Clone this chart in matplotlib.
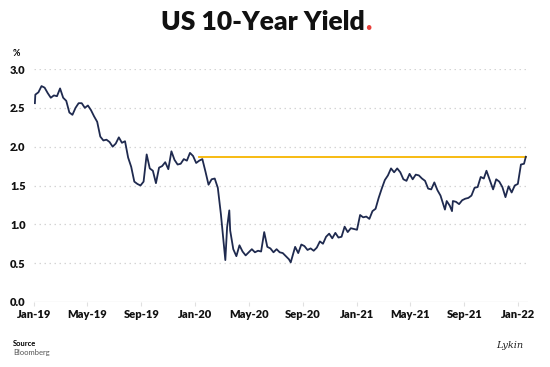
import matplotlib
matplotlib.use("Agg")
import matplotlib.pyplot as plt
import matplotlib.dates as mdates
import numpy as np

# US 10-year yield, weekly-ish readings (%)
dates = [
    "2019-01-03", "2019-01-04", "2019-01-11", "2019-01-18", "2019-01-25", "2019-02-01",
    "2019-02-08", "2019-02-15", "2019-02-22", "2019-03-01", "2019-03-08", "2019-03-15",
    "2019-03-22", "2019-03-29", "2019-04-05", "2019-04-12", "2019-04-19", "2019-04-26",
    "2019-05-03", "2019-05-10", "2019-05-17", "2019-05-24", "2019-05-31", "2019-06-07",
    "2019-06-14", "2019-06-21", "2019-06-28", "2019-07-05", "2019-07-12", "2019-07-19",
    "2019-07-26", "2019-08-02", "2019-08-09", "2019-08-16", "2019-08-23", "2019-08-30",
    "2019-09-06", "2019-09-13", "2019-09-20", "2019-09-27", "2019-10-04", "2019-10-11",
    "2019-10-18", "2019-10-25", "2019-11-01", "2019-11-08", "2019-11-15", "2019-11-22",
    "2019-11-29", "2019-12-06", "2019-12-13", "2019-12-20", "2019-12-27",
    "2020-01-03", "2020-01-10", "2020-01-17", "2020-01-24", "2020-01-31", "2020-02-07",
    "2020-02-14", "2020-02-21", "2020-02-28", "2020-03-06", "2020-03-09", "2020-03-13",
    "2020-03-18", "2020-03-20", "2020-03-27", "2020-04-03", "2020-04-10", "2020-04-17",
    "2020-04-24", "2020-05-01", "2020-05-08", "2020-05-15", "2020-05-22", "2020-05-29",
    "2020-06-05", "2020-06-12", "2020-06-19", "2020-06-26", "2020-07-03", "2020-07-10",
    "2020-07-17", "2020-07-24", "2020-07-31", "2020-08-04", "2020-08-07", "2020-08-14",
    "2020-08-21", "2020-08-28", "2020-09-04", "2020-09-11", "2020-09-18", "2020-09-25",
    "2020-10-02", "2020-10-09", "2020-10-16", "2020-10-23", "2020-10-30", "2020-11-06",
    "2020-11-13", "2020-11-20", "2020-11-27", "2020-12-04", "2020-12-11", "2020-12-18",
    "2020-12-25",
    "2021-01-01", "2021-01-08", "2021-01-15", "2021-01-22", "2021-01-29", "2021-02-05",
    "2021-02-12", "2021-02-19", "2021-02-26", "2021-03-05", "2021-03-12", "2021-03-19",
    "2021-03-26", "2021-04-02", "2021-04-09", "2021-04-16", "2021-04-23", "2021-04-30",
    "2021-05-07", "2021-05-14", "2021-05-21", "2021-05-28", "2021-06-04", "2021-06-11",
    "2021-06-18", "2021-06-25", "2021-07-02", "2021-07-09", "2021-07-19", "2021-07-23",
    "2021-07-30", "2021-08-04", "2021-08-06", "2021-08-13", "2021-08-20", "2021-08-27",
    "2021-09-03", "2021-09-10", "2021-09-17", "2021-09-24", "2021-10-01", "2021-10-08",
    "2021-10-15", "2021-10-21", "2021-10-29", "2021-11-05", "2021-11-12", "2021-11-19",
    "2021-11-26", "2021-12-03", "2021-12-10", "2021-12-17", "2021-12-24", "2021-12-31",
    "2022-01-07", "2022-01-14", "2022-01-18",
]
yields = [
    2.56, 2.67, 2.70, 2.78, 2.76, 2.69,
    2.63, 2.66, 2.65, 2.75, 2.63, 2.59,
    2.44, 2.41, 2.50, 2.56, 2.56, 2.50,
    2.53, 2.47, 2.39, 2.32, 2.13, 2.08,
    2.09, 2.06, 2.00, 2.04, 2.12, 2.05,
    2.07, 1.86, 1.74, 1.55, 1.52, 1.50,
    1.55, 1.90, 1.72, 1.69, 1.53, 1.73,
    1.75, 1.80, 1.71, 1.94, 1.83, 1.77,
    1.78, 1.84, 1.82, 1.92, 1.88,
    1.79, 1.82, 1.84, 1.68, 1.51, 1.58,
    1.59, 1.47, 1.13, 0.71, 0.54, 0.96,
    1.18, 0.92, 0.68, 0.59, 0.73, 0.65,
    0.60, 0.64, 0.68, 0.64, 0.66, 0.65,
    0.90, 0.71, 0.69, 0.64, 0.68, 0.64,
    0.63, 0.59, 0.55, 0.51, 0.57, 0.71,
    0.63, 0.74, 0.72, 0.67, 0.69, 0.66,
    0.70, 0.78, 0.75, 0.84, 0.88, 0.82,
    0.89, 0.83, 0.84, 0.97, 0.90, 0.95,
    0.94,
    0.93, 1.12, 1.09, 1.10, 1.07, 1.17,
    1.20, 1.34, 1.46, 1.57, 1.63, 1.72,
    1.67, 1.72, 1.67, 1.58, 1.56, 1.65,
    1.58, 1.64, 1.63, 1.59, 1.56, 1.46,
    1.45, 1.54, 1.44, 1.37, 1.19, 1.30,
    1.24, 1.17, 1.30, 1.29, 1.26, 1.31,
    1.33, 1.34, 1.37, 1.47, 1.48, 1.61,
    1.59, 1.69, 1.56, 1.45, 1.58, 1.55,
    1.48, 1.35, 1.49, 1.41, 1.50, 1.52,
    1.77, 1.78, 1.87,
]

# reference level (yellow line)
ref_level = 1.87
ref_start = "2020-01-10"

yticks = [0.0, 0.5, 1.0, 1.5, 2.0, 2.5, 3.0]
xtick_dates = ["2019-01-01", "2019-05-01", "2019-09-01", "2020-01-01", "2020-05-01",
               "2020-09-01", "2021-01-01", "2021-05-01", "2021-09-01", "2022-01-01"]

NAVY = "#1f2a4f"
GOLD = "#f7b500"
GRID = "#d4d4d4"
FONT = "Lato"

x = np.array(dates, dtype="datetime64[D]")
y = np.array(yields)

fig = plt.figure(figsize=(5.5, 3.67), dpi=100)
ax = fig.add_axes([34 / 550, 65 / 367, 494 / 550, 233 / 367])

for v in yticks[1:]:
    ax.axhline(v, color=GRID, lw=0.9, ls=(0, (1.2, 2.8)), zorder=0)
ax.axhline(0, color="#e6e6e6", lw=1.0, zorder=0)

ax.plot(x, y, color=NAVY, lw=1.3, zorder=3)
ax.plot([np.datetime64(ref_start), x[-1]], [ref_level, ref_level], color=GOLD, lw=1.3, zorder=2)

ax.set_xlim(np.datetime64("2019-01-01"), np.datetime64("2022-01-23"))
ax.set_ylim(0, 3.0)

for s in ax.spines.values():
    s.set_visible(False)

ax.set_yticks(yticks)
ax.set_yticklabels([f"{v:.1f}" for v in yticks])
ax.set_xticks(np.array(xtick_dates, dtype="datetime64[D]"))
ax.xaxis.set_major_formatter(mdates.DateFormatter("%b-%y"))
ax.tick_params(axis="y", length=0, pad=6)
ax.tick_params(axis="x", length=3, color="#e0e0e0", pad=2)
for lab in ax.get_xticklabels() + ax.get_yticklabels():
    lab.set_fontfamily(FONT)
    lab.set_fontweight("heavy")
    lab.set_fontsize(8)
    lab.set_color("#111111")

fig.text(13 / 550, 1 - 53 / 367, "%", fontfamily=FONT, fontweight="bold", fontsize=6.5,
         ha="left", va="center")

# title with red full stop
title = fig.text(0.478, 1 - 22 / 367, "US 10-Year Yield", fontfamily=FONT, fontweight="heavy",
                 fontsize=19, ha="center", va="center", color="#111111")
fig.canvas.draw()
bb = title.get_window_extent()
x_end = bb.x1 / fig.bbox.width
fig.text(x_end, 1 - 22 / 367, ".", fontfamily=FONT, fontweight="heavy", fontsize=19,
         ha="left", va="center", color="#e8403b")

fig.text(13 / 550, 1 - 343 / 367, "Source", fontfamily=FONT, fontweight="bold", fontsize=5.5,
         ha="left", va="center")
fig.text(13 / 550, 1 - 352 / 367, "Bloomberg", fontfamily=FONT, fontsize=5.5,
         ha="left", va="center", color="#555555")
fig.text(523 / 550, 1 - 345 / 367, "Lykin", fontfamily="DejaVu Serif", style="italic",
         fontsize=7, ha="right", va="center", color="#222222")

fig.savefig("out.png", dpi=100)
